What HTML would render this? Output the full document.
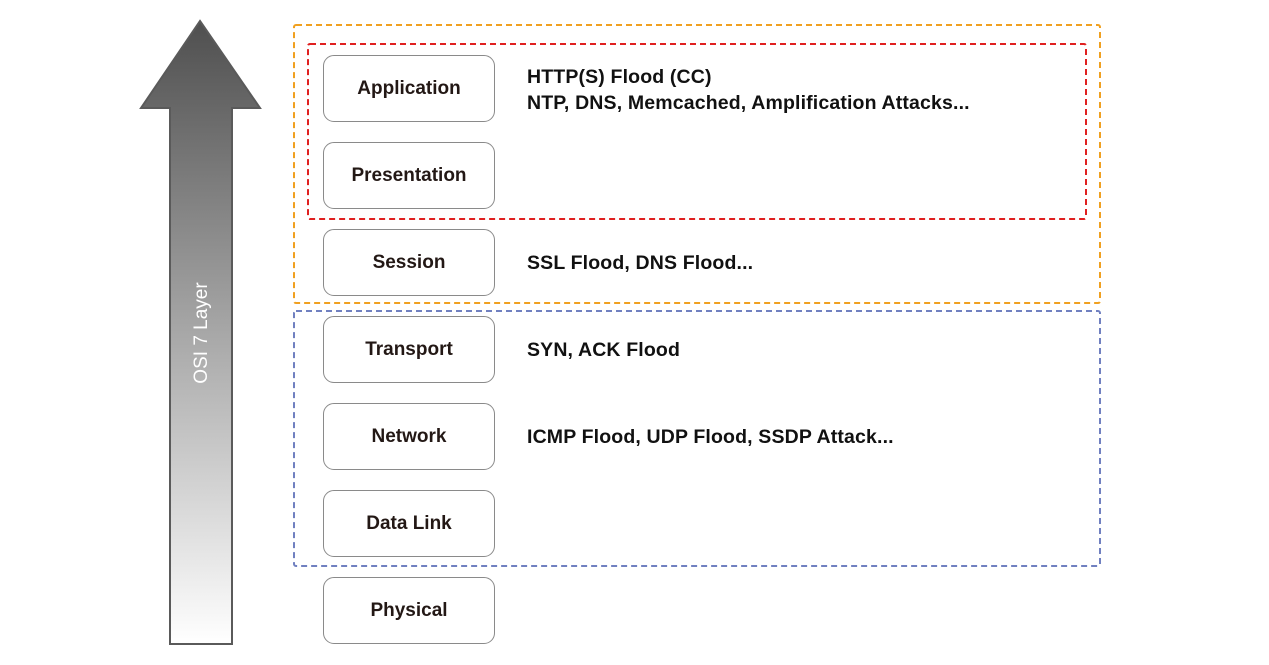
<!DOCTYPE html>
<html><head><style>
body{margin:0;width:1269px;height:665px;background:#fff;position:relative;overflow:hidden;font-family:"Liberation Sans",sans-serif;}
.b{position:absolute;left:323px;width:170px;height:64px;border:1.5px solid #8a8a8a;border-radius:11px;display:flex;align-items:center;justify-content:center;font-size:19px;color:#231815;font-weight:bold;padding-top:1px;box-sizing:content-box;}
.t{position:absolute;left:527px;font-size:19.5px;color:#111;line-height:26px;font-weight:bold;letter-spacing:0.15px;}
</style></head><body>
<svg width="1269" height="665" style="position:absolute;left:0;top:0">
<defs><linearGradient id="g" x1="0" y1="0" x2="0" y2="1"><stop offset="0" stop-color="#4f4f4f"/><stop offset="1" stop-color="#ffffff"/></linearGradient></defs>
<polygon points="200,21 260,108 232,108 232,644 170,644 170,108 141,108" fill="url(#g)" stroke="#5a5a5a" stroke-width="2"/>
<text x="0" y="0" transform="translate(207,333) rotate(-90)" text-anchor="middle" fill="#fff" font-size="19" font-family="Liberation Sans, sans-serif">OSI 7 Layer</text>
<g fill="none" stroke-width="2" stroke-dasharray="6,4">
<rect x="294" y="25" width="806" height="278" rx="2" stroke="#f0a020"/>
<rect x="308" y="44" width="778" height="175" rx="2" stroke="#e02020"/>
<rect x="294" y="311" width="806" height="255" rx="2" stroke="#7080c0"/>
</g>
</svg>
<div class="b" style="top:55px">Application</div>
<div class="b" style="top:142px">Presentation</div>
<div class="b" style="top:229px">Session</div>
<div class="b" style="top:316px">Transport</div>
<div class="b" style="top:403px">Network</div>
<div class="b" style="top:490px">Data Link</div>
<div class="b" style="top:577px">Physical</div>
<div class="t" style="top:64px">HTTP(S) Flood (CC)<br>NTP, DNS, Memcached, Amplification Attacks...</div>
<div class="t" style="top:250px">SSL Flood, DNS Flood...</div>
<div class="t" style="top:337px">SYN, ACK Flood</div>
<div class="t" style="top:424px">ICMP Flood, UDP Flood, SSDP Attack...</div>
</body></html>
